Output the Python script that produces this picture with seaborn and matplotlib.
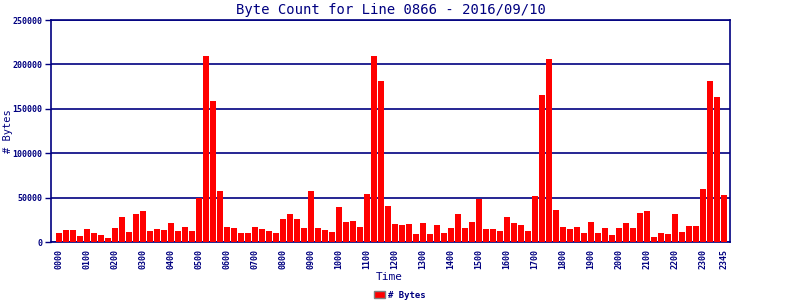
import matplotlib
matplotlib.use("Agg")
import matplotlib.pyplot as plt
import seaborn as sns
import pandas as pd
from matplotlib.patches import Patch

times = [f"{h:02d}{m:02d}" for h in range(24) for m in (0, 15, 30, 45)]
byte_counts = [
    10500, 13875, 13875, 7125, 15000, 10500, 8250, 4875,
    16125, 28500, 11625, 31875, 35250, 12750, 15000, 13875,
    21750, 12750, 17250, 12750, 49875, 209625, 159000, 57750,
    17250, 16125, 10500, 10500, 17250, 15000, 12750, 10500,
    26250, 31875, 26250, 16125, 57750, 16125, 13875, 11625,
    39750, 22875, 24000, 17250, 54375, 209625, 181500, 40875,
    20625, 19500, 20625, 9375, 21750, 9375, 19500, 10500,
    16125, 31875, 16125, 22875, 48750, 15000, 15000, 12750,
    28500, 21750, 19500, 12750, 52125, 165750, 206250, 36375,
    17250, 15000, 17250, 10500, 22875, 10500, 16125, 8250,
    16125, 21750, 16125, 33000, 35250, 6000, 10500, 9375,
    31875, 11625, 18375, 18375, 60000, 181500, 163500, 53250,
]
tick_labels = [times[i] for i in range(0, 96, 4)] + ["2345"]
y_ticks = [0, 50000, 100000, 150000, 200000, 250000]

NAVY = "#000080"
sns.set_theme(style="white")
plt.rcParams["font.family"] = ["DejaVu Sans Mono", "DejaVu Sans"]

df = pd.DataFrame({"Time": times, "Bytes": byte_counts})

fig = plt.figure(figsize=(8, 3), dpi=100)
ax = fig.add_axes([51 / 800, 1 - 242 / 300, (730 - 51) / 800, (242 - 20) / 300])
sns.barplot(data=df, x="Time", y="Bytes", order=times, color="#ff0000",
            saturation=1, width=0.86, ax=ax, zorder=3,
            edgecolor="none", linewidth=0)

ax.set_xlim(-1.14, 95.86)
ax.set_ylim(0, 250000)
ax.set_yticks(y_ticks)
ax.set_yticklabels([str(v) for v in y_ticks], color=NAVY, fontsize=6, fontweight="bold")
tick_pos = list(range(0, 96, 4)) + [95]
ax.set_xticks(tick_pos)
ax.set_xticklabels(tick_labels, rotation=90, color=NAVY, fontsize=6, fontweight="bold")
ax.tick_params(axis="y", length=4, color=NAVY, width=1, direction="out", pad=2, left=True)
ax.tick_params(axis="x", length=0, pad=5)
for s in ax.spines.values():
    s.set_color(NAVY)
    s.set_linewidth(1.2)
ax.yaxis.grid(True, color=NAVY, linewidth=1.2, zorder=1)
ax.xaxis.grid(False)
ax.set_axisbelow(True)

ax.set_title("Byte Count for Line 0866 - 2016/09/10", color=NAVY, fontsize=10, pad=4)
ax.set_xlabel("Time", color=NAVY, fontsize=8)
ax.set_ylabel("# Bytes", color=NAVY, fontsize=7.5)
ax.xaxis.set_label_coords((389 - 51) / 679, (242 - 277) / 222)
ax.yaxis.set_label_coords((8 - 51) / 679, (242 - 131) / 222)
ax.xaxis.label.set_verticalalignment("center")
ax.yaxis.label.set_verticalalignment("center")

handle = Patch(facecolor="#ff0000", edgecolor="#808080", linewidth=1, label="# Bytes")
fig.legend(handles=[handle], loc="center", bbox_to_anchor=(0.5, 1 - 295 / 300),
           frameon=False, handlelength=1.2, handleheight=0.9,
           handletextpad=0.4, labelcolor=NAVY, prop={"weight": "bold", "size": 6.5,
                                                     "family": "DejaVu Sans Mono"})

fig.savefig("out.png", dpi=100)
